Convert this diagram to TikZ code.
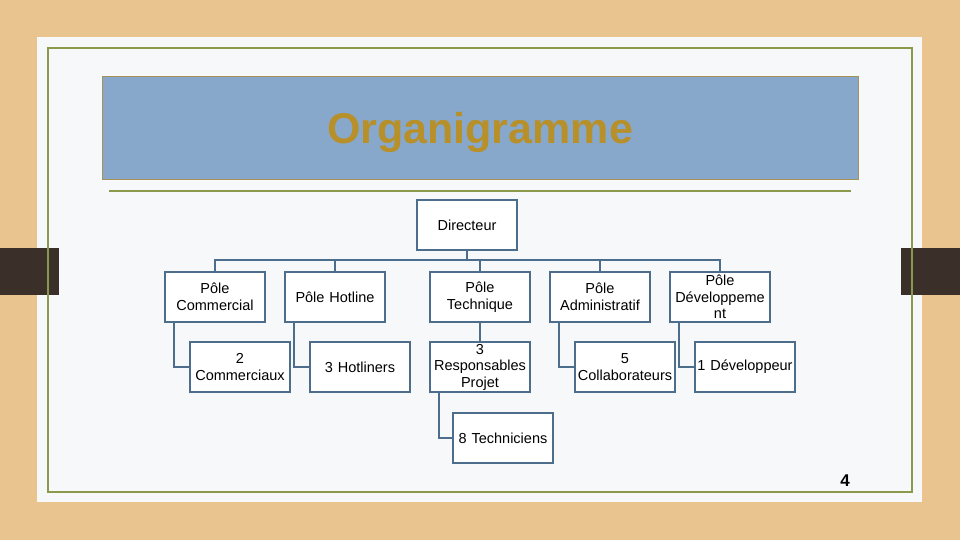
\documentclass[tikz,border=0pt]{standalone}
\usepackage{fontspec}
\setmainfont{Liberation Sans}
\usetikzlibrary{positioning}

\definecolor{wood}{HTML}{EAC48E}
\definecolor{paper}{HTML}{F7F8F9}
\definecolor{olive}{HTML}{8A9A4C}
\definecolor{bar}{HTML}{3B2F29}
\definecolor{titlefill}{HTML}{87A7CB}
\definecolor{titleline}{HTML}{A8925C}
\definecolor{gold}{HTML}{B8902A}
\definecolor{linkblue}{HTML}{4D6D8D}

\begin{document}
\begin{tikzpicture}[x=1pt,y=-1pt,
                    unit/.style={rectangle,draw=linkblue,line width=2pt,fill=white,
                                 minimum width=100pt,minimum height=50pt,text width=96pt,
                                 inner sep=2pt,align=center,
                                 font=\fontsize{14.5}{16.5}\selectfont},
                    link/.style={draw=linkblue,line width=2.5pt}]

  % slide background
  \useasboundingbox (0,0) rectangle (960,540);
  \fill[wood] (0,0) rectangle (960,540);
  \fill[paper] (37,37) rectangle (922,502);
  \fill[bar] (0,248) rectangle (59,295);
  \fill[bar] (901,248) rectangle (960,295);
  \draw[olive,line width=2pt] (48,48) rectangle (912,492);

  % title
  \draw[titleline,fill=titlefill,line width=1pt] (102,77) rectangle (858,180);
  \node (title) at (480,132) {\fontsize{43}{48}\selectfont\bfseries\color{gold}Organigramme};
  \draw[olive,line width=2pt] (109,191) -- (851,191);

  % chart
  \node[unit] (dir) at (467,225) {Directeur};

  \node[unit] (com) at (215,297) {Pôle\\Commercial};
  \node[unit] (hot) at (335,297) {Pôle Hotline};
  \node[unit] (tec) at (480,297) {Pôle\\Technique};
  \node[unit] (adm) at (600,297) {Pôle\\Administratif};
  \node[unit] (dev) at (720,297) {Pôle\\Développeme\\nt};

  \node[unit] (com2) at (240,367) {2\\Commerciaux};
  \node[unit] (hot3) at (360,367) {3 Hotliners};
  \node[unit] (resp) at (480,367) {3\\Responsables\\Projet};
  \node[unit] (coll) at (625,367) {5\\Collaborateurs};
  \node[unit] (dev1) at (745,367) {1 Développeur};
  \node[unit] (tech8) at (503,438) {8 Techniciens};

  \coordinate (bus) at (467,261);
  \draw[link] (dir.south) -- (bus);
  \draw[link] (com.north) -- ++(0,-11) -| (dev.north);
  \foreach \p in {hot,tec,adm}
    \draw[link] (\p.north) -- (\p.north |- bus);

  \foreach \a/\b in {com/com2,hot/hot3,adm/coll,dev/dev1,resp/tech8}
    \draw[link] ([xshift=10pt]\a.south west) |- (\b.west);
  \draw[link] (tec.south) -- (resp.north);

  % page number
  \node (page) at (845,481) {\fontsize{17}{20}\selectfont\bfseries 4};
\end{tikzpicture}
\end{document}
